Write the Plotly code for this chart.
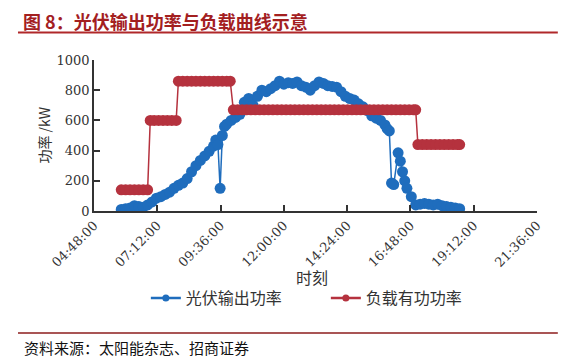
import plotly.graph_objects as go

DAY = "2020-01-01 "

pv_times = ["05:50","06:00","06:10","06:20","06:30","06:40","06:50","07:00","07:10","07:20",
            "07:30","07:40","07:50","08:00","08:10","08:20","08:30","08:40","08:50","09:00",
            "09:10","09:20","09:25","09:30","09:35","09:40","09:45","09:50","10:00","10:10",
            "10:20","10:30","10:40","10:50","11:00","11:10","11:20","11:30","11:40","11:50",
            "12:00","12:10","12:20","12:30","12:40","12:50","13:00","13:10","13:20","13:30",
            "13:40","13:50","14:00","14:10","14:20","14:30","14:40","14:50","15:00","15:10",
            "15:20","15:30","15:40","15:50","15:55","16:00","16:05","16:10","16:20","16:25",
            "16:30","16:35","16:40","16:50","17:00","17:10","17:20","17:30","17:40","17:50",
            "18:00","18:10","18:20","18:30","18:40"]
pv_values = [10,15,20,35,30,25,40,60,85,95,
             110,125,150,170,185,215,260,300,335,365,
             395,430,470,440,150,500,560,575,600,620,
             640,720,745,700,760,800,790,810,830,860,
             840,850,845,855,830,820,800,830,855,845,
             830,825,820,790,760,745,735,710,690,665,
             630,615,600,570,545,530,185,175,385,330,
             260,200,150,95,40,45,50,45,40,45,
             35,30,25,20,15]

load_times = ["05:50","06:00","06:10","06:20","06:30","06:40","06:50",
              "06:56","07:05","07:15","07:25","07:35","07:45","07:55",
              "08:00","08:10","08:20","08:30","08:40","08:50","09:00","09:10","09:20","09:30","09:40","09:50","09:58",
              "10:05","10:15","10:25","10:35","10:45","10:55","11:05","11:15","11:25","11:35","11:45","11:55",
              "12:05","12:15","12:25","12:35","12:45","12:55","13:05","13:15","13:25","13:35","13:45","13:55",
              "14:05","14:15","14:25","14:35","14:45","14:55","15:05","15:15","15:25","15:35","15:45","15:55",
              "16:05","16:15","16:25","16:35","16:45","16:55","17:00",
              "17:05","17:15","17:25","17:35","17:45","17:55","18:05","18:15","18:25","18:35","18:40"]
load_values = [140,140,140,140,140,140,140,
               600,600,600,600,600,600,600,
               860,860,860,860,860,860,860,860,860,860,860,860,860,
               670,670,670,670,670,670,670,670,670,670,670,670,
               670,670,670,670,670,670,670,670,670,670,670,670,
               670,670,670,670,670,670,670,670,670,670,670,670,
               670,670,670,670,670,670,670,
               440,440,440,440,440,440,440,440,440,440,440]

x_ticks = ["04:48:00","07:12:00","09:36:00","12:00:00","14:24:00","16:48:00","19:12:00","21:36:00"]
y_ticks = [0, 200, 400, 600, 800, 1000]

BLUE = "#1f6dbd"
RED = "#b5323e"
AXC = "#333333"
CJK = "Noto Sans CJK SC"
SERIF = "DejaVu Serif"

fig = go.Figure()
fig.add_trace(go.Scatter(
    x=[DAY + t for t in pv_times], y=pv_values, name="光伏输出功率", showlegend=False,
    mode="lines+markers", line=dict(color=BLUE, width=1.5),
    marker=dict(color=BLUE, size=11)))
fig.add_trace(go.Scatter(
    x=[DAY + t for t in load_times], y=load_values, name="负载有功功率", showlegend=False,
    mode="lines+markers", line=dict(color=RED, width=1.5),
    marker=dict(color=RED, size=11)))
# legend entries (small markers like the reference legend)
fig.add_trace(go.Scatter(x=[None], y=[None], name="光伏输出功率", mode="lines+markers",
                         line=dict(color=BLUE, width=2.5), marker=dict(color=BLUE, size=7)))
fig.add_trace(go.Scatter(x=[None], y=[None], name="负载有功功率", mode="lines+markers",
                         line=dict(color=RED, width=2.5), marker=dict(color=RED, size=7)))

tickvals = [DAY + t for t in x_ticks]

fig.update_layout(
    width=585, height=364,
    margin=dict(l=94, r=48, t=60, b=153, autoexpand=False),
    paper_bgcolor="white", plot_bgcolor="white",
    showlegend=True,
    legend=dict(orientation="h", xref="container", yref="container",
                x=0.557, xanchor="center", y=1 - 298 / 364, yanchor="middle",
                font=dict(family=CJK, size=16, color="#333"), entrywidth=135,
                bgcolor="rgba(0,0,0,0)"),
    xaxis=dict(type="date", range=[tickvals[0], tickvals[-1]], automargin=False,
               tickvals=tickvals, ticktext=x_ticks, tickangle=-45,
               tickfont=dict(family=SERIF, size=13, color="#333"),
               showgrid=False, zeroline=False, showline=True, linecolor=AXC, linewidth=1.5,
               ticks="inside", ticklen=6, tickcolor=AXC, tickwidth=1.5),
    yaxis=dict(range=[0, 1000], tickvals=y_ticks, automargin=False,
               tickfont=dict(family=SERIF, size=13, color="#333"),
               showgrid=False, zeroline=False, showline=True, linecolor=AXC, linewidth=1.5,
               ticks="inside", ticklen=6, tickcolor=AXC, tickwidth=1.5),
)

fig.add_annotation(xref="paper", yref="paper", x=-0.165, y=1.258, xanchor="left", yanchor="middle",
                   text="<b>图 8：光伏输出功率与负载曲线示意</b>", showarrow=False,
                   font=dict(family=CJK, size=18, color="#a3201f"))
fig.add_shape(type="line", xref="paper", yref="paper", x0=-0.1716, x1=1.047, y0=1.182, y1=1.182,
              line=dict(color="#b0282a", width=2))
fig.add_shape(type="line", xref="paper", yref="paper", x0=-0.1716, x1=1.047, y0=-0.808, y1=-0.808,
              line=dict(color="#8c1c1c", width=1.5))
fig.add_annotation(xref="paper", yref="paper", x=-0.1625, y=-0.901, xanchor="left", yanchor="middle",
                   text="资料来源：太阳能杂志、招商证券", showarrow=False,
                   font=dict(family=CJK, size=15, color="#111"))
fig.add_annotation(xref="paper", yref="paper", x=0.492, y=-0.437, xanchor="center", yanchor="middle",
                   text="时刻", showarrow=False, font=dict(family=CJK, size=16, color="#333"))
fig.add_annotation(xref="paper", yref="paper", x=-0.115, y=0.5, xanchor="center", yanchor="middle",
                   text="功率 /kW", textangle=-90, showarrow=False,
                   font=dict(family=CJK, size=14, color="#333"))

fig.write_html("out.html", config={"displayModeBar": False},
               post_script="document.body.style.margin='0px';")
